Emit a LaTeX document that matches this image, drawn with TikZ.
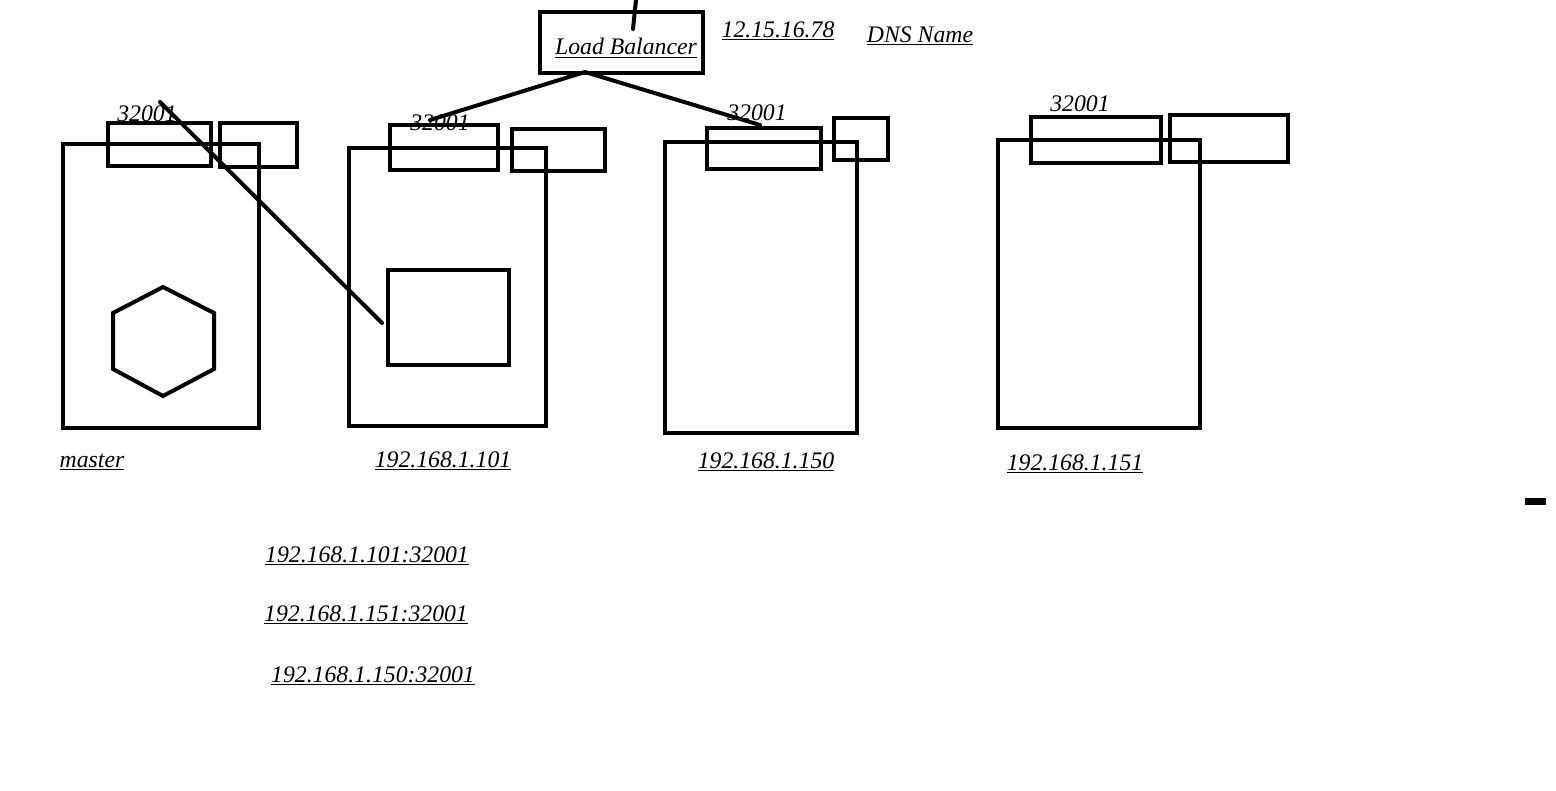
\documentclass[tikz,border=0pt]{standalone}
\usepackage{fontspec}
\setmainfont{Liberation Serif}
\usetikzlibrary{fit}
\begin{document}
\begin{tikzpicture}[x=0.75pt,y=-0.75pt,
  box/.style={draw=black,line width=3pt,inner sep=0pt,fill=none},
  conn/.style={draw=black,line width=3pt,line cap=round},
  lbl/.style={inner sep=0pt,font=\fontsize{17.8}{20}\selectfont\itshape}]
\useasboundingbox[fill=white] (0,0) rectangle (1556,791);
% load balancer
\node[box,fit={(540,12) (703,73)}] (lb) {};
\node[lbl] (lbt) at (626,48) {\underline{Load Balancer}};
\node[lbl] (ip) at (778,31) {\underline{12.15.16.78}};
\node[lbl] (dns) at (920,36) {\underline{DNS Name}};
\coordinate (top0) at (636,0);
\coordinate (top1) at (633,29);
\draw[conn] (top0) -- (top1);
\coordinate (lbp) at (585,72);
% master
\node[box,fit={(63,144) (259,428)}] (master) {};
\node[box,fit={(108,123) (211,166)}] (mp1) {};
\node[box,fit={(220,123) (297,167)}] (mp2) {};
\node[lbl] (mport) at (147,114) {32001};
\node[box,draw=none] (hex) at (163,341) {};
\draw[line width=3pt] (163,287) -- (214,313) -- (214,369) -- (163,396) -- (113,369) -- (113,313) -- cycle;
\node[lbl] (mlab) at (92,462) {\underline{master}};
% node 101
\node[box,fit={(349,148) (546,426)}] (n1) {};
\node[box,fit={(390,125) (498,170)}] (n1p1) {};
\node[box,fit={(512,129) (605,171)}] (n1p2) {};
\node[lbl] (n1port) at (440,123) {32001};
\node[box,fit={(388,270) (509,365)}] (pod) {};
\node[lbl] (n1lab) at (443,461) {\underline{192.168.1.101}};
% node 150
\node[box,fit={(665,142) (857,433)}] (n2) {};
\node[box,fit={(707,128) (821,169)}] (n2p1) {};
\node[box,fit={(834,118) (888,160)}] (n2p2) {};
\node[lbl] (n2port) at (757,113) {32001};
\node[lbl] (n2lab) at (766,462) {\underline{192.168.1.150}};
% node 151
\node[box,fit={(998,140) (1200,428)}] (n3) {};
\node[box,fit={(1031,117) (1161,163)}] (n3p1) {};
\node[box,fit={(1170,115) (1288,162)}] (n3p2) {};
\node[lbl] (n3port) at (1080,104) {32001};
\node[lbl] (n3lab) at (1075,464) {\underline{192.168.1.151}};
% connectors
\coordinate (e1) at (430,120);
\coordinate (e2) at (760,125);
\draw[conn] (e1) -- (lbp) -- (e2);
\coordinate (d0) at (160,102);
\coordinate (d1) at (382,323);
\draw[conn] (d0) -- (d1);
% endpoint list
\node[lbl] (ep1) at (367,556) {\underline{192.168.1.101:32001}};
\node[lbl] (ep2) at (366,615) {\underline{192.168.1.151:32001}};
\node[lbl] (ep3) at (373,676) {\underline{192.168.1.150:32001}};
% small mark
\node[fill=black,inner sep=0pt,fit={(1525,498) (1546,505)}] (mark) {};
\end{tikzpicture}
\end{document}
